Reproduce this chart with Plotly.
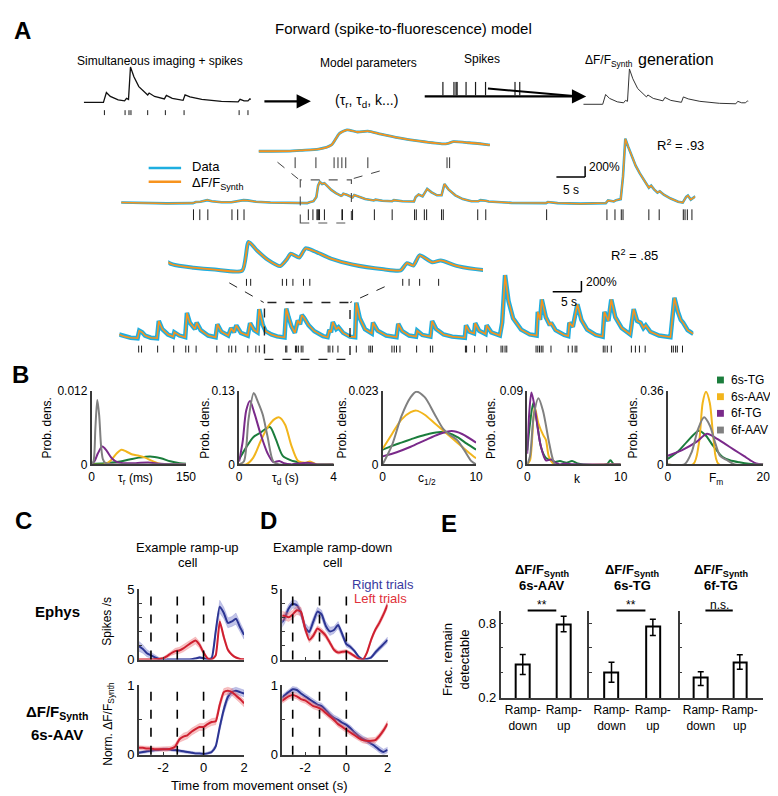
import plotly.graph_objects as go

W, H = 778, 796
FONT = "Liberation Sans, Arial, Helvetica, sans-serif"
AXC = "#3a3a3a"
DATA_BLUE = "#1eaee0"
SYN_ORANGE = "#f7931e"

# ======================= DATA =======================
# Panel A, top schematic (arbitrary units)
demo_trace = [(0, 0), (1.5, 2), (2.0, 0), (2.3, 100), (2.7, 60), (3.5, 25), (4.15, 15), (4.35, 40),
              (4.55, 30), (4.75, 360), (5.1, 260), (5.6, 160), (6.3, 90), (6.5, 75), (6.65, 95),
              (7.2, 60), (8.2, 35), (8.4, 70), (9.0, 40), (10.1, 20), (10.3, 75), (10.8, 55),
              (12.0, 30), (14.0, 10), (15.7, 5), (15.9, 30), (16.3, 15), (16.7, 15), (16.9, 35), (17.0, 30)]
demo_spikes = [2.1, 4.2, 4.6, 4.8, 6.5, 8.3, 10.2, 15.8, 16.7]

# Panel A, example cell 1 (time s, dF/F %)
row1_trace = [(0, 15), (3, 5), (8, 0), (12.5, 5), (13.0, 25), (13.8, 30), (15.0, 60), (15.8, 40),
              (17.5, 20), (19.2, 20), (20.2, 40), (21.3, 60), (22.0, 55), (23.5, 30), (26, 15), (30, 5),
              (32.4, 5), (32.8, 20), (33.5, 40), (34.0, 120), (34.3, 330), (34.6, 400), (35.0, 360),
              (35.4, 375), (35.9, 320), (36.6, 250), (37.4, 190), (38.3, 140), (38.5, 150), (38.7, 180),
              (39.3, 160), (40.1, 120), (40.3, 110), (40.6, 155), (41.4, 120), (42.5, 80), (44.0, 55),
              (44.3, 70), (45.5, 50), (47.2, 40), (47.5, 60), (49, 40), (51.0, 35), (51.3, 120),
              (51.8, 165), (52.5, 130), (52.9, 200), (53.3, 270), (54.0, 210), (55.0, 150), (55.8, 150),
              (56.3, 360), (57.0, 260), (58.2, 150), (59.5, 80), (61.0, 40), (62.2, 40), (62.6, 60),
              (63.5, 50), (64.0, 35), (68, 10), (74.0, 5), (74.3, 25), (76, 5), (80, -5), (84.4, 5),
              (84.8, 55), (85.8, 35), (86.2, 60), (87.0, 80), (87.4, 500), (87.8, 1200), (88.3, 1050),
              (88.9, 880), (89.6, 700), (90.3, 560), (91.2, 400), (91.9, 290), (92.3, 330), (92.8, 260),
              (93.4, 200), (93.8, 225), (94.5, 160), (95.7, 90), (97.0, 30), (97.8, 15), (98.4, 120),
              (98.7, 145), (99.2, 70), (99.6, 100), (100, 130)]
row1_spikes = [12.6, 13.7, 15.1, 19.3, 20.3, 21.4, 32.6, 33.4, 34.1, 34.25, 34.4, 34.55, 35.4, 38.45,
               38.55, 40.3, 44.1, 47.2, 51.1, 51.4, 52.8, 53.2, 55.8, 56.1, 62.1, 63.5, 74.1, 84.6,
               86.0, 87.1, 87.4, 91.9, 93.7, 97.9, 98.2, 98.6, 99.4]
row1_zoom = [31.2, 40.1]

# Panel A, example cell 2
row2_trace = [(0, 80), (1, 40), (2, 20), (3.2, 10), (3.5, 150), (4.0, 120), (4.5, 60), (5.5, 20),
              (6.6, 10), (6.9, 330), (7.5, 180), (8.5, 80), (9.4, 40), (9.6, 120), (10.5, 60),
              (11.5, 30), (11.8, 480), (12.3, 300), (13.2, 180), (13.5, 300), (14.2, 160), (15.5, 60),
              (16.8, 30), (17.1, 270), (17.8, 130), (19.0, 60), (19.5, 200), (20.0, 120), (20.4, 250),
              (21.2, 110), (22.4, 60), (22.8, 290), (23.5, 160), (24.1, 120), (24.4, 550), (25.0, 260),
              (25.5, 140), (26.5, 80), (27.5, 45), (28.8, 25), (29.1, 560), (29.5, 400), (30.0, 230),
              (30.6, 110), (30.9, 230), (31.1, 340), (31.5, 270), (31.8, 440), (32.2, 390), (33.0, 250),
              (34.0, 140), (35.5, 50), (36.3, 30), (36.6, 165), (36.9, 120), (37.2, 310), (37.8, 180),
              (38.2, 215), (39.0, 110), (40.2, 40), (41.1, 30), (41.3, 670), (41.9, 380), (42.8, 180),
              (44.0, 100), (44.2, 300), (45.0, 150), (46.5, 60), (48.3, 30), (48.6, 280), (49.3, 140),
              (50.5, 60), (51.7, 40), (51.9, 150), (52.8, 70), (54.2, 40), (54.5, 330), (55.2, 180),
              (56.5, 80), (58, 40), (60.2, 20), (60.4, 250), (61.0, 130), (61.8, 100), (62.0, 290),
              (62.7, 150), (63.8, 90), (64.0, 250), (64.8, 120), (66.3, 60), (66.7, 300), (67.2, 1180),
              (67.8, 700), (68.6, 380), (70, 170), (71.5, 80), (72.7, 60), (72.9, 500), (73.3, 350),
              (73.6, 730), (74.3, 400), (75.0, 250), (75.2, 300), (76.0, 160), (77.5, 70), (78.2, 50),
              (78.4, 300), (79.0, 220), (79.8, 640), (80.5, 350), (81.5, 170), (83.0, 70), (84.2, 40),
              (84.5, 500), (85.2, 330), (85.7, 730), (86.4, 400), (87.5, 200), (89.0, 80), (89.3, 300),
              (89.6, 550), (90.2, 330), (90.8, 300), (91.3, 200), (91.7, 250), (92.5, 130), (94, 60),
              (96.0, 30), (96.4, 500), (96.7, 760), (97.3, 500), (97.8, 350), (98.2, 300), (99.0, 160),
              (100, 90)]
row2_spikes = [3.4, 3.9, 6.7, 9.5, 11.6, 12.1, 13.4, 17.0, 19.1, 19.6, 20.3, 22.4, 23.8, 24.4, 29.0,
               29.2, 30.7, 30.9, 31.2, 31.7, 32.0, 36.4, 36.7, 37.2, 38.1, 41.3, 43.5, 43.8, 44.1,
               47.5, 47.9, 48.3, 48.9, 51.8, 54.2, 54.6, 60.3, 60.5, 61.9, 64.0, 66.5, 66.8, 67.2,
               67.5, 72.6, 72.9, 73.2, 73.5, 73.8, 75.2, 78.2, 78.9, 79.4, 79.7, 84.3, 84.6, 85.0,
               85.7, 89.2, 89.9, 90.6, 91.6, 96.2, 96.5, 96.9, 97.2, 98.1]
row2_zoom = [25.3, 40.2]
r2_values = [".93", ".85"]

# Panel B: probability densities of model parameters
GROUPS = ["6s-TG", "6s-AAV", "6f-TG", "6f-AAV"]
GROUP_COLORS = ["#1b7d3c", "#f2b51c", "#7a2a8a", "#808080"]
b_taur = {
    "6s-TG": ([0, 20, 40, 60, 75, 93, 110, 125, 140, 150],
              [0.0001, 0.0002, 0.0004, 0.0008, 0.0011, 0.0013, 0.0010, 0.0005, 0.0002, 0.0001]),
    "6s-AAV": ([0, 20, 30, 40, 47, 55, 65, 75, 85, 95, 105, 115, 150],
               [0, 0, 0.0006, 0.0018, 0.0024, 0.0021, 0.0016, 0.0014, 0.0011, 0.0006, 0.0002, 0, 0]),
    "6f-TG": ([0, 5, 10, 17, 24, 32, 40, 50, 70, 90, 110, 150],
              [0.0001, 0.0006, 0.0018, 0.0029, 0.0022, 0.0010, 0.0004, 0.0002, 0.0002, 0.0003, 0.0001, 0]),
    "6f-AAV": ([0, 3, 6, 9, 12, 15, 18, 22, 30, 40, 150],
               [0, 0.0005, 0.006, 0.0105, 0.008, 0.003, 0.0008, 0.0002, 0.0001, 0, 0]),
}
b_taud = {
    "6s-TG": ([0, 0.3, 0.6, 0.9, 1.3, 1.55, 1.85, 2.2, 2.6, 3.0, 4],
              [0.009, 0.03, 0.048, 0.056, 0.066, 0.045, 0.015, 0.007, 0.003, 0, 0]),
    "6s-AAV": ([0, 0.3, 0.6, 0.9, 1.2, 1.5, 1.7, 1.95, 2.2, 2.5, 2.8, 3.0, 3.3, 4],
               [0, 0, 0.012, 0.04, 0.065, 0.08, 0.083, 0.07, 0.035, 0.006, 0.003, 0.005, 0, 0]),
    "6f-TG": ([0, 0.15, 0.3, 0.46, 0.65, 0.9, 1.2, 1.45, 1.7, 1.9, 2.2, 2.9, 3.3, 4],
              [0.005, 0.04, 0.095, 0.112, 0.09, 0.055, 0.02, 0.004, 0.006, 0.002, 0, 0.003, 0, 0]),
    "6f-AAV": ([0, 0.2, 0.4, 0.62, 0.8, 1.0, 1.2, 1.45, 1.7, 4],
               [0, 0.005, 0.08, 0.126, 0.11, 0.088, 0.05, 0.005, 0, 0]),
}
b_chalf = {
    "6s-TG": ([0, 1, 2, 3, 4, 5, 6.2, 7, 8, 9, 10],
              [0.0046, 0.0058, 0.0068, 0.0078, 0.0088, 0.0096, 0.0101, 0.0098, 0.0085, 0.0065, 0.0046]),
    "6s-AAV": ([0, 1, 2, 3, 3.6, 4.5, 5.5, 6.5, 7.5, 8.5, 9.3, 10],
               [0.0049, 0.0095, 0.014, 0.0163, 0.0168, 0.0155, 0.013, 0.0105, 0.008, 0.0055, 0.0035, 0.0019]),
    "6f-TG": ([0, 1.5, 3, 4.5, 6, 7.4, 8.5, 10],
              [0.0025, 0.0038, 0.0055, 0.0075, 0.0094, 0.0104, 0.0095, 0.0068]),
    "6f-AAV": ([0, 1, 2, 3, 3.6, 4.5, 5.5, 6.5, 7.2, 8.0, 8.7, 9.5, 10],
               [0, 0.006, 0.015, 0.021, 0.0227, 0.021, 0.016, 0.011, 0.0092, 0.0075, 0.0046, 0.001, 0]),
}
b_k = {
    "6s-TG": ([0, 0.3, 0.65, 1.0, 1.5, 2.0, 2.5, 3.0, 3.5, 4.2, 4.8, 5.4, 6, 8.5, 8.9, 9.3, 10],
              [0.017, 0.05, 0.075, 0.055, 0.02, 0.008, 0.005, 0.003, 0.004, 0.002, 0.004, 0.001, 0, 0, 0.005, 0, 0]),
    "6s-AAV": ([0, 0.3, 0.8, 1.2, 1.7, 2.0, 2.3, 2.7, 3.0, 10],
               [0, 0.005, 0.07, 0.05, 0.036, 0.03, 0.01, 0.002, 0, 0]),
    "6f-TG": ([0, 0.2, 0.45, 0.8, 1.4, 2.0, 2.6, 3.0, 3.5, 4.0, 5, 10],
              [0.013, 0.06, 0.088, 0.07, 0.025, 0.005, 0.006, 0.002, 0, 0.001, 0, 0]),
    "6f-AAV": ([0, 0.3, 0.7, 1.2, 1.7, 2.3, 2.7, 3.0, 10],
               [0, 0.01, 0.06, 0.081, 0.065, 0.029, 0.008, 0, 0]),
}
b_fm = {
    "6s-TG": ([0, 2, 4, 6.5, 8, 9.5, 11.5, 13, 15, 17, 20],
              [0.027, 0.06, 0.11, 0.165, 0.14, 0.09, 0.036, 0.02, 0.01, 0.003, 0]),
    "6s-AAV": ([0, 5.3, 6.5, 7.3, 8.0, 8.8, 9.6, 10.7, 20],
               [0, 0, 0.1, 0.3, 0.355, 0.3, 0.12, 0, 0]),
    "6f-TG": ([0, 3, 6, 8.2, 10, 12, 14, 16, 17.3, 18.5, 20],
              [0.042, 0.07, 0.11, 0.15, 0.13, 0.1, 0.07, 0.04, 0.02, 0.005, 0]),
    "6f-AAV": ([0, 3.5, 5.0, 6.3, 7.6, 8.8, 10, 11, 12.5, 14, 20],
               [0, 0, 0.06, 0.17, 0.23, 0.19, 0.1, 0.04, 0.02, 0, 0]),
}
b_xmax = [150, 4, 10, 10, 20]
b_ymax = [0.012, 0.13, 0.023, 0.09, 0.36]
b_ylabels = ["0.012", "0.13", "0.023", "0.09", "0.36"]
b_xlabels = ["τ<sub>r</sub> (ms)", "τ<sub>d</sub> (s)", "c<sub>1/2</sub>", "k", "F<sub>m</sub>"]

# Panels C/D: trial-averaged responses (mean, sem)
TIME = [-3.2, -3.0, -2.8, -2.6, -2.4, -2.2, -2.0, -1.8, -1.6, -1.4, -1.2, -1.0, -0.8, -0.6,
        -0.4, -0.2, 0.0, 0.2, 0.4, 0.6, 0.8, 1.0, 1.2, 1.4, 1.6, 1.8, 2.0]
EPOCHS = [-2.6, -1.3, 0.0]
c_eph_right = [0.95, 0.75, 0.45, 0.3, 0.15, 0.05, 0.0, 0.0, 0.0, 0.0, 0.0, 0.0, 0.0, 0.02, 0.08, 0.15,
               0.1, 0.02, 0.1, 2.0, 3.75, 3.3, 2.6, 2.7, 2.9, 2.3, 1.75]
c_eph_right_sem = [0.35, 0.3, 0.25, 0.2, 0.15, 0.1, 0.05, 0.05, 0.05, 0.05, 0.05, 0.05, 0.05, 0.05, 0.06,
                   0.08, 0.06, 0.05, 0.1, 0.3, 0.45, 0.4, 0.35, 0.35, 0.4, 0.35, 0.3]
c_eph_left = [0.0, 0.0, 0.0, 0.0, 0.02, 0.05, 0.1, 0.25, 0.45, 0.6, 0.65, 0.8, 1.0, 1.2, 1.35, 1.05, 0.5,
              0.08, 0.0, 0.3, 2.7, 1.6, 0.7, 0.35, 0.15, 0.05, 0.02]
c_eph_left_sem = [0.05, 0.05, 0.05, 0.05, 0.05, 0.06, 0.08, 0.12, 0.15, 0.2, 0.22, 0.25, 0.25, 0.25, 0.25,
                  0.22, 0.15, 0.08, 0.05, 0.1, 0.2, 0.2, 0.12, 0.08, 0.05, 0.05, 0.05]
d_eph_right = [2.5, 2.9, 3.6, 3.95, 3.85, 3.3, 2.3, 1.95, 2.7, 3.4, 3.2, 2.4, 2.0, 2.1, 2.45, 1.8, 1.1,
               0.9, 0.6, 0.2, 0.02, 0.05, 0.15, 0.5, 0.8, 1.1, 1.4]
d_eph_right_sem = [0.4, 0.35, 0.3, 0.3, 0.3, 0.3, 0.3, 0.3, 0.3, 0.3, 0.3, 0.3, 0.3, 0.25, 0.25, 0.25,
                   0.2, 0.15, 0.12, 0.08, 0.05, 0.05, 0.1, 0.15, 0.15, 0.2, 0.2]
d_eph_left = [3.1, 3.1, 3.0, 3.2, 3.5, 3.4, 2.2, 1.4, 1.7, 2.2, 2.0, 1.7, 1.2, 0.7, 0.5, 0.55, 0.6, 0.45,
              0.25, 0.05, 0.0, 0.5, 1.4, 2.1, 2.6, 3.2, 3.9]
d_eph_left_sem = [0.35, 0.3, 0.3, 0.3, 0.3, 0.3, 0.25, 0.2, 0.2, 0.2, 0.2, 0.2, 0.15, 0.15, 0.12, 0.12,
                  0.12, 0.1, 0.1, 0.08, 0.05, 0.1, 0.15, 0.15, 0.2, 0.2, 0.25]
c_dff_right = [0.03, 0.04, 0.05, 0.06, 0.07, 0.07, 0.08, 0.08, 0.07, 0.07, 0.06, 0.05, 0.04, 0.03, 0.02,
               0.02, 0.01, 0.02, 0.04, 0.12, 0.4, 0.65, 0.83, 0.9, 0.92, 0.9, 0.88]
c_dff_right_sem = [0.02, 0.02, 0.02, 0.02, 0.02, 0.02, 0.02, 0.02, 0.02, 0.02, 0.02, 0.02, 0.02, 0.02,
                   0.02, 0.02, 0.02, 0.02, 0.02, 0.03, 0.05, 0.06, 0.06, 0.05, 0.05, 0.05, 0.05]
c_dff_left = [0.1, 0.1, 0.09, 0.09, 0.08, 0.08, 0.08, 0.08, 0.09, 0.12, 0.22, 0.26, 0.28, 0.33, 0.37,
              0.4, 0.4, 0.44, 0.47, 0.48, 0.72, 0.9, 0.92, 0.9, 0.85, 0.8, 0.74]
c_dff_left_sem = [0.03, 0.03, 0.03, 0.03, 0.03, 0.03, 0.03, 0.03, 0.03, 0.04, 0.04, 0.05, 0.05, 0.05,
                  0.05, 0.05, 0.05, 0.05, 0.05, 0.05, 0.05, 0.05, 0.05, 0.05, 0.05, 0.05, 0.05]
d_dff_right = [0.8, 0.85, 0.9, 0.94, 0.93, 0.88, 0.84, 0.8, 0.76, 0.72, 0.7, 0.64, 0.58, 0.53, 0.5, 0.46,
               0.43, 0.38, 0.32, 0.27, 0.23, 0.2, 0.16, 0.12, 0.07, 0.04, 0.07]
d_dff_right_sem = [0.04] * 27
d_dff_left = [0.76, 0.8, 0.84, 0.86, 0.84, 0.8, 0.78, 0.74, 0.7, 0.68, 0.65, 0.6, 0.55, 0.5, 0.44, 0.4,
              0.36, 0.32, 0.28, 0.24, 0.21, 0.2, 0.2, 0.21, 0.27, 0.35, 0.45]
d_dff_left_sem = [0.04] * 27

# Panel E: fraction remaining detectable
E_CATS = ["Ramp-<br>down", "Ramp-<br>up"]
E_TITLES = ["6s-AAV", "6s-TG", "6f-TG"]
E_VALUES = [[0.468, 0.79], [0.405, 0.768], [0.36, 0.485]]
E_ERR_PLUS = [[0.08, 0.065], [0.08, 0.062], [0.05, 0.06]]
E_ERR_MINUS = [[0.08, 0.06], [0.08, 0.068], [0.06, 0.055]]
E_SIG = ["**", "**", "n.s."]

# ======================= HELPERS =======================
fig = go.Figure()
_n = [0]


def axes(x0, x1, y0, y1, xr, yr, xkw=None, ykw=None):
    _n[0] += 1
    sfx = "" if _n[0] == 1 else str(_n[0])
    base = dict(showgrid=False, zeroline=False, showline=False, showticklabels=False,
                ticks="", fixedrange=True)
    xa = dict(base, domain=[x0 / W, x1 / W], range=xr, anchor="y" + sfx)
    ya = dict(base, domain=[1 - y1 / H, 1 - y0 / H], range=yr, anchor="x" + sfx)
    if xkw:
        xa.update(xkw)
    if ykw:
        ya.update(ykw)
    fig.update_layout(**{"xaxis" + sfx: xa, "yaxis" + sfx: ya})
    return "x" + sfx, "y" + sfx


def vis(size=12, **kw):
    d = dict(showline=True, linecolor=AXC, linewidth=1.5, tickmode="array", tickangle=0,
             tickfont=dict(family=FONT, size=size, color="black"), tickcolor=AXC)
    d.update(kw)
    return d


def line(xs, ys, xa, ya, color, width, shape="linear", smoothing=None):
    ld = dict(color=color, width=width, shape=shape)
    if smoothing is not None:
        ld["smoothing"] = smoothing
    fig.add_trace(go.Scatter(x=xs, y=ys, xaxis=xa, yaxis=ya, mode="lines", line=ld,
                             hoverinfo="skip", showlegend=False))


def raster(times, lo, hi, xa, ya, color="#1a1a1a", width=1):
    xs, ys = [], []
    for t in times:
        xs += [t, t, None]
        ys += [lo, hi, None]
    line(xs, ys, xa, ya, color, width)


def text(x, y, s, size=12, color="black", xanchor="center", yanchor="middle", angle=0):
    fig.add_annotation(x=x / W, y=1 - y / H, xref="paper", yref="paper", text=s, showarrow=False,
                       font=dict(family=FONT, size=size, color=color), xanchor=xanchor,
                       yanchor=yanchor, textangle=angle)


def pline(x0, y0, x1, y1, color="black", width=1.0, dash=None):
    fig.add_shape(type="line", xref="paper", yref="paper", x0=x0 / W, y0=1 - y0 / H, x1=x1 / W,
                  y1=1 - y1 / H, line=dict(color=color, width=width, dash=dash))


def dline(x0, y0, x1, y1, xa, ya, color="black", width=1.5, dash=None):
    fig.add_shape(type="line", xref=xa, yref=ya, x0=x0, y0=y0, x1=x1, y1=y1,
                  line=dict(color=color, width=width, dash=dash))


def unzip(pts):
    return [p[0] for p in pts], [p[1] for p in pts]


# ======================= PANEL A =======================
text(12, 16, "<b>A</b>", size=24)
text(399, 14, "Forward (spike-to-fluorescence) model", size=15)
text(152, 47, "Simultaneous imaging + spikes", size=12)
text(364, 49, "Model parameters", size=12)
text(479, 45, "Spikes", size=12)
text(582, 47, "ΔF/F<sub>Synth</sub>", size=12, xanchor="left")
text(636, 45, "generation", size=16, xanchor="left")
text(362, 88, "(τ<sub>r</sub>, τ<sub>d</sub>, k...)", size=14)

dt, dv = unzip(demo_trace)
xa, ya = axes(74, 244, 45, 105, [0, 17], [-160, 440])
line(dt, dv, xa, ya, "#111111", 1.3)
raster(demo_spikes, -130, -80, xa, ya)
xa, ya = axes(582, 750, 45, 105, [0, 17], [-140, 460])
line(dt, dv, xa, ya, "#333333", 1.0)
xa, ya = axes(428, 519, 68, 82, [0, 17], [0, 1])
raster(demo_spikes, 0, 1, xa, ya, width=1.2)

fig.add_annotation(x=305 / W, y=1 - 88 / H, xref="paper", yref="paper", ax=-48, ay=0, text="",
                   showarrow=True, arrowhead=2, arrowsize=1.3, arrowwidth=2.2, arrowcolor="black")
fig.add_annotation(x=585 / W, y=1 - 83 / H, xref="paper", yref="paper", ax=-163, ay=0, text="",
                   showarrow=True, arrowhead=2, arrowsize=1.3, arrowwidth=2.2, arrowcolor="black")
pline(485, 75, 578, 83, width=2)

# example cell 1
r1t, r1v = unzip(row1_trace)
xa, ya = axes(112, 696, 115, 215, [0, 100], [-418.6, 1401.4])
line(r1t, r1v, xa, ya, DATA_BLUE, 2.6)
line(r1t, r1v, xa, ya, SYN_ORANGE, 1.5)
raster(row1_spikes, -310, -110, xa, ya)
fig.add_shape(type="rect", xref=xa, yref=ya, x0=row1_zoom[0], x1=row1_zoom[1], y0=-364, y1=437,
              line=dict(color="#555555", width=1.2, dash="dash"))
sb_t, sb_v = 75.8, 490
dline(sb_t, sb_v, sb_t + 5, sb_v, xa, ya)
dline(sb_t + 5, sb_v, sb_t + 5, sb_v + 200, xa, ya)
xa, ya = axes(252, 487, 105, 160, row1_zoom, [-382, 619])
line(r1t, r1v, xa, ya, DATA_BLUE, 2.8, "spline", 0.6)
line(r1t, r1v, xa, ya, SYN_ORANGE, 1.8, "spline", 0.6)
raster(row1_spikes, -310, -110, xa, ya, color="#333333")
pline(271, 150, 292, 167, color="#444444", dash="dash")
pline(375, 159, 347, 167, color="#444444", dash="dash")
text(586, 155, "200%", size=12, xanchor="left")
text(570, 178, "5 s", size=12)
text(655, 132, "R<sup>2</sup> = " + r2_values[0], size=13, xanchor="left")

pline(140, 156, 173, 156, color=DATA_BLUE, width=2.5)
pline(140, 170, 173, 170, color=SYN_ORANGE, width=2.5)
text(182, 154, "Data", size=13, xanchor="left")
text(182, 172, "ΔF/F<sub>Synth</sub>", size=13, xanchor="left")

# example cell 2
r2t, r2v = unzip(row2_trace)
xa, ya = axes(110, 694, 255, 355, [0, 100], [-455, 1365])
line(r2t, r2v, xa, ya, DATA_BLUE, 4.5)
line(r2t, r2v, xa, ya, SYN_ORANGE, 1.6)
raster(row2_spikes, -255, -127, xa, ya)
fig.add_shape(type="rect", xref=xa, yref=ya, x0=row2_zoom[0], x1=row2_zoom[1], y0=-382, y1=673,
              line=dict(color="#222222", width=1.4, dash="dash"))
sb_t, sb_v = 75.5, 874
dline(sb_t, sb_v, sb_t + 5, sb_v, xa, ya)
dline(sb_t + 5, sb_v, sb_t + 5, sb_v + 200, xa, ya)
xa, ya = axes(160, 480, 220, 280, row2_zoom, [-328, 764])
line(r2t, r2v, xa, ya, DATA_BLUE, 4.0, "spline", 0.6)
line(r2t, r2v, xa, ya, SYN_ORANGE, 1.8, "spline", 0.6)
raster(row2_spikes, -255, -127, xa, ya)
pline(222, 273, 257, 293, color="#222222", dash="dash")
pline(380, 277, 345, 293, color="#222222", dash="dash")
text(583, 272, "200%", size=12, xanchor="left")
text(567, 293, "5 s", size=12)
text(608, 245, "R<sup>2</sup> = " + r2_values[1], size=13, xanchor="left")

# ======================= PANEL B =======================
text(10, 366, "<b>B</b>", size=24)
B_AX = [(82, 178), (232, 328), (378, 473), (525, 620), (668, 765)]
B_YLAB_X = [37, 197, 337, 488, 633]
B_XLAB_X = [127, 279, 423, 576, 717]
b_data = [b_taur, b_taud, b_chalf, b_k, b_fm]
draw_order = ["6s-TG", "6s-AAV", "6f-TG", "6f-AAV"]
for i in range(5):
    xa, ya = axes(B_AX[i][0], B_AX[i][1], 383, 458, [0, b_xmax[i]], [0, b_ymax[i]],
                  xkw=vis(tickvals=[0, b_xmax[i]], ticktext=["0", str(b_xmax[i])], showticklabels=True),
                  ykw=vis(tickvals=[0, b_ymax[i]], ticktext=["0", b_ylabels[i]], showticklabels=True))
    for g in draw_order:
        xs, ys = b_data[i][g]
        line(xs, ys, xa, ya, GROUP_COLORS[GROUPS.index(g)], 2.0, "spline", 0.8)
    text(B_YLAB_X[i], 421, "Prob. dens.", size=12, angle=-90)
    text(B_XLAB_X[i], 473, b_xlabels[i], size=12)

for j, g in enumerate(GROUPS):
    yc = [372, 389, 406, 423][j]
    fig.add_shape(type="rect", xref="paper", yref="paper", x0=718 / W, x1=725 / W,
                  y0=1 - (yc + 3.5) / H, y1=1 - (yc - 3.5) / H,
                  line=dict(width=0), fillcolor=GROUP_COLORS[j])
    text(730, yc, g, size=12, xanchor="left")

# ======================= PANELS C / D =======================
text(13, 515, "<b>C</b>", size=24)
text(262, 515, "<b>D</b>", size=24)
text(180, 543, "Example ramp-up", size=13)
text(180, 558, "cell", size=13)
text(327, 543, "Example ramp-down", size=13)
text(327, 558, "cell", size=13)
text(47, 608, "<b>Ephys</b>", size=15)
text(47, 711, "<b>ΔF/F<sub>Synth</sub></b>", size=15)
text(47, 733, "<b>6s-AAV</b>", size=15)
text(98, 618, "Spikes /s", size=12, angle=-90)
text(100, 722, "Norm. ΔF/F<sub>Synth</sub>", size=12, angle=-90)
text(253, 785, "Time from movement onset (s)", size=13)
text(345, 580, "Right trials", size=13, color="#3a3aa0", xanchor="left")
text(347, 595, "Left trials", size=13, color="#e0303a", xanchor="left")

BLUE_L, BLUE_F = "#2c3593", "rgba(110,115,200,0.42)"
RED_L, RED_F = "#cf2030", "rgba(235,110,115,0.42)"


def band(mean, sem, xa, ya, lcol, fcol):
    up = [m + s for m, s in zip(mean, sem)]
    lo = [m - s for m, s in zip(mean, sem)]
    fig.add_trace(go.Scatter(x=TIME + TIME[::-1], y=up + lo[::-1], xaxis=xa, yaxis=ya, mode="lines",
                             fill="toself", fillcolor=fcol, line=dict(width=0.6, color=fcol),
                             hoverinfo="skip", showlegend=False))
    line(TIME, mean, xa, ya, lcol, 2.0, "spline", 0.5)


cd_sets = [
    (130, 237, [-3.2, 2.0], c_eph_right, c_eph_right_sem, c_eph_left, c_eph_left_sem,
     c_dff_right, c_dff_right_sem, c_dff_left, c_dff_left_sem),
    (276, 383, [-3.1, 2.0], d_eph_right, d_eph_right_sem, d_eph_left, d_eph_left_sem,
     d_dff_right, d_dff_right_sem, d_dff_left, d_dff_left_sem),
]
for (x0, x1, xr, er, ers, el, els, fr, frs, fl, fls) in cd_sets:
    xa, ya = axes(x0, x1, 585, 657, xr, [0, 5],
                  xkw=vis(tickvals=[-2, 0, 2], ticks="inside", ticklen=3, showticklabels=False),
                  ykw=vis(size=13, tickvals=[0, 1, 2, 3, 4, 5], ticktext=["0", "", "", "", "", "5"],
                          showticklabels=True, ticks="inside", ticklen=3))
    for e in EPOCHS:
        fig.add_shape(type="line", xref=xa, yref=ya + " domain", x0=e, x1=e, y0=0, y1=1,
                      line=dict(color="black", width=1.6, dash="dash"))
    band(er, ers, xa, ya, BLUE_L, BLUE_F)
    band(el, els, xa, ya, RED_L, RED_F)
    xa, ya = axes(x0, x1, 683, 754, xr, [0, 1],
                  xkw=vis(size=13, tickvals=[-2, 0, 2], ticktext=["-2", "0", "2"], showticklabels=True,
                          ticks="inside", ticklen=3),
                  ykw=vis(size=13, tickvals=[0, 0.5, 1], ticktext=["0", "", "1"], showticklabels=True,
                          ticks="inside", ticklen=3))
    for e in EPOCHS:
        fig.add_shape(type="line", xref=xa, yref=ya + " domain", x0=e, x1=e, y0=0, y1=1,
                      line=dict(color="black", width=1.6, dash="dash"))
    band(fr, frs, xa, ya, BLUE_L, BLUE_F)
    band(fl, fls, xa, ya, RED_L, RED_F)

# ======================= PANEL E =======================
text(445, 518, "<b>E</b>", size=24)
E_AX = [(498, 587), (588, 678), (680, 765)]
E_TX = [540, 632, 722]
text(452, 657, "Frac. remain<br>detectable", size=13, angle=-90)
for i in range(3):
    ykw = vis(size=13, tickvals=[0.2, 0.4, 0.6, 0.8], ticktext=["0.2", "", "", "0.8"],
              showticklabels=(i == 0), ticks="inside", ticklen=3)
    xa, ya = axes(E_AX[i][0], E_AX[i][1], 607, 696, [-0.54, 1.6], [0.2, 0.9],
                  xkw=vis(size=12, tickvals=[0, 1], ticktext=E_CATS, showticklabels=True), ykw=ykw)
    fig.add_trace(go.Bar(x=[0, 1], y=E_VALUES[i], width=0.34, xaxis=xa, yaxis=ya,
                         marker=dict(color="white", line=dict(color="black", width=2)),
                         error_y=dict(type="data", symmetric=False, array=E_ERR_PLUS[i],
                                      arrayminus=E_ERR_MINUS[i], color="black", thickness=1.5, width=3),
                         hoverinfo="skip", showlegend=False))
    fig.add_shape(type="line", xref=xa, yref=ya + " domain", x0=0.12, x1=0.82, y0=1.0, y1=1.0,
                  line=dict(color="black", width=2))
    fig.add_annotation(x=0.47, y=1.0, xref=xa, yref=ya + " domain", text=E_SIG[i], showarrow=False,
                       yanchor="bottom", yshift=-3, font=dict(family=FONT, size=12, color="black"))
    text(E_TX[i], 566, "<b>ΔF/F<sub>Synth</sub></b>", size=13)
    text(E_TX[i], 581, "<b>" + E_TITLES[i] + "</b>", size=13)

fig.update_layout(width=W, height=H, margin=dict(l=0, r=0, t=0, b=0), paper_bgcolor="white",
                  plot_bgcolor="rgba(0,0,0,0)", showlegend=False, bargap=0,
                  font=dict(family=FONT, size=12, color="black"))
fig.write_html("out.html")
